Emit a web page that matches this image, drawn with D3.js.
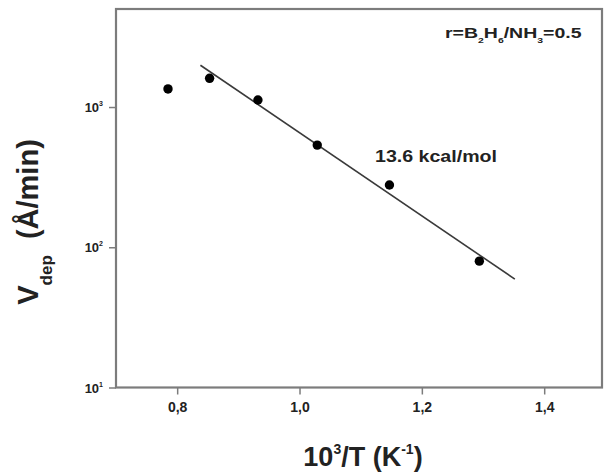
<!DOCTYPE html>
<html>
<head>
<meta charset="utf-8">
<script src="https://cdn.jsdelivr.net/npm/d3@7"></script>
<style>
  body { margin: 0; background: #fff; }
  text { font-family: "Liberation Sans", Arial, sans-serif; fill: #222; }
</style>
</head>
<body>
<script>
// data
var tempInv = [0.785, 0.853, 0.932, 1.029, 1.147, 1.294];   // 10^3/T (1/K)
var rate    = [1346, 1602, 1122, 535, 278, 79.6];             // V_dep (A/min)
var fitX = [0.838, 1.352];
var fitY = [1985, 59.3];
var xTicks = [0.8, 1.0, 1.2, 1.4];
var yTicks = [10, 100, 1000];
var yExp   = ["1", "2", "3"];

var W = 605, H = 475;
var plotL = 116, plotR = 602, plotT = 9, plotB = 387.5;

var svg = d3.select("body").append("svg")
  .attr("width", W).attr("height", H);

var x = d3.scaleLinear().domain([0.7, 1.4945]).range([plotL, plotR]);
var y = d3.scaleLog().domain([10, 5000]).range([plotB, plotT]);

var axisCol = "#7c7c7c";

// frame
svg.append("rect")
  .attr("x", plotL).attr("y", plotT)
  .attr("width", plotR - plotL).attr("height", plotB - plotT)
  .attr("fill", "none").attr("stroke", axisCol).attr("stroke-width", 2.2);

// x axis
var xa = svg.append("g").attr("transform", "translate(0," + plotB + ")")
  .call(d3.axisBottom(x).tickValues(xTicks).tickSize(7).tickPadding(8)
    .tickFormat(function(d) { return d3.format(".1f")(d).replace(".", ","); }));
xa.select(".domain").remove();
xa.selectAll("line").attr("stroke", axisCol).attr("stroke-width", 1.5);
xa.selectAll("text").attr("font-size", 14).attr("font-weight", "bold")
  .attr("fill", "#333").style("font-family", "Liberation Sans, Arial, sans-serif");

// y axis
var ya = svg.append("g").attr("transform", "translate(" + plotL + ",0)")
  .call(d3.axisLeft(y).tickValues(yTicks).tickSize(7).tickFormat(""));
ya.select(".domain").remove();
ya.selectAll("line").attr("stroke", axisCol).attr("stroke-width", 1.5);

var yl = svg.append("g").selectAll("text").data(yTicks).enter().append("text")
  .attr("x", 103).attr("y", function(d) { return y(d) + 5; })
  .attr("text-anchor", "end").attr("font-size", 13).attr("font-weight", "bold")
  .attr("fill", "#333");
yl.append("tspan").text("10");
yl.append("tspan").attr("dy", -6).attr("font-size", 7)
  .text(function(d, i) { return yExp[i]; });

// fit line
svg.append("line")
  .attr("x1", x(fitX[0])).attr("y1", y(fitY[0]))
  .attr("x2", x(fitX[1])).attr("y2", y(fitY[1]))
  .attr("stroke", "#3a3a3a").attr("stroke-width", 1.6);

// points
svg.append("g").selectAll("circle").data(tempInv).enter().append("circle")
  .attr("cx", function(d) { return x(d); })
  .attr("cy", function(d, i) { return y(rate[i]); })
  .attr("r", 4.7).attr("fill", "#000");

// annotations
svg.append("text").attr("x", 375).attr("y", 162)
  .attr("font-size", 16).attr("fill", "#222").attr("font-weight", "bold")
  .attr("textLength", 122).attr("lengthAdjust", "spacingAndGlyphs")
  .text("13.6 kcal/mol");

var r = svg.append("text").attr("transform", "translate(445,38) scale(1.3,1)")
  .attr("font-size", 15).attr("font-weight", "bold").attr("fill", "#222");
r.append("tspan").text("r=B");
r.append("tspan").attr("dy", 5).attr("font-size", 8).text("2");
r.append("tspan").attr("dy", -5).text("H");
r.append("tspan").attr("dy", 5).attr("font-size", 8).text("6");
r.append("tspan").attr("dy", -5).text("/NH");
r.append("tspan").attr("dy", 5).attr("font-size", 8).text("3");
r.append("tspan").attr("dy", -5).text("=0.5");

// axis titles
var xt = svg.append("text").attr("x", 363).attr("y", 466)
  .attr("text-anchor", "middle").attr("font-size", 27).attr("font-weight", "bold")
  .attr("fill", "#111");
xt.append("tspan").text("10");
xt.append("tspan").attr("dy", -12).attr("font-size", 14).text("3");
xt.append("tspan").attr("dy", 12).text("/T (K");
xt.append("tspan").attr("dy", -12).attr("font-size", 14).text("-1");
xt.append("tspan").attr("dy", 12).text(")");

var yt = svg.append("text")
  .attr("transform", "translate(38,222) rotate(-90)")
  .attr("text-anchor", "middle").attr("font-size", 29).attr("font-weight", "bold")
  .attr("fill", "#111");
yt.append("tspan").text("V");
yt.append("tspan").attr("dy", 14).attr("font-size", 17).text("dep");
yt.append("tspan").attr("dy", -14).text("\u00a0 (\u00c5/min)");
</script>
</body>
</html>
